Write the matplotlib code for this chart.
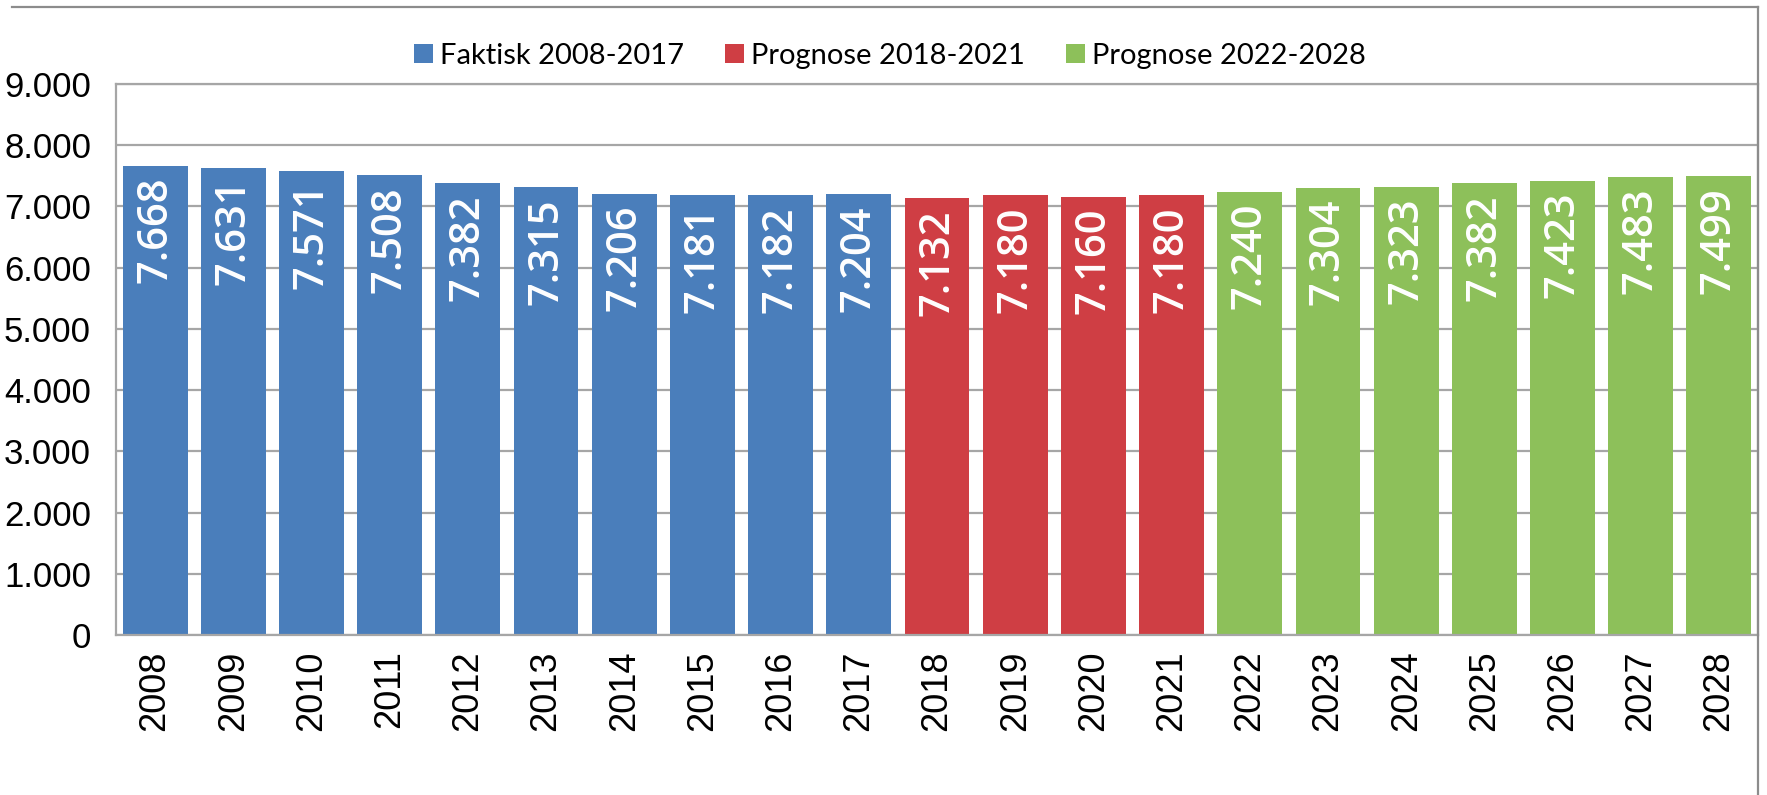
import matplotlib
matplotlib.use("Agg")
import matplotlib.pyplot as plt
from matplotlib.patches import Patch
from matplotlib.lines import Line2D

years = [str(y) for y in range(2008, 2029)]
values = [7668, 7631, 7571, 7508, 7382, 7315, 7206, 7181, 7182, 7204,
          7132, 7180, 7160, 7180,
          7240, 7304, 7323, 7382, 7423, 7483, 7499]
groups = ["Faktisk 2008-2017"] * 10 + ["Prognose 2018-2021"] * 4 + ["Prognose 2022-2028"] * 7
group_names = ["Faktisk 2008-2017", "Prognose 2018-2021", "Prognose 2022-2028"]
group_colors = {"Faktisk 2008-2017": "#4A7EBB",
                "Prognose 2018-2021": "#CF3E44",
                "Prognose 2022-2028": "#8DC05A"}
yticks = [0, 1000, 2000, 3000, 4000, 5000, 6000, 7000, 8000, 9000]
ytick_labels = ["0", "1.000", "2.000", "3.000", "4.000", "5.000", "6.000", "7.000", "8.000", "9.000"]
value_labels = ["7.668", "7.631", "7.571", "7.508", "7.382", "7.315", "7.206", "7.181", "7.182", "7.204",
                "7.132", "7.180", "7.160", "7.180",
                "7.240", "7.304", "7.323", "7.382", "7.423", "7.483", "7.499"]

W, H = 1767, 795
fig = plt.figure(figsize=(W / 100, H / 100), dpi=100)
ax = fig.add_axes([116 / W, 1 - 635 / H, (1758 - 116) / W, (635 - 84) / H])

x = list(range(len(years)))
colors = [group_colors[g] for g in groups]
bars = ax.bar(x, values, width=0.83, color=colors, zorder=2)

ax.set_xlim(-0.5, len(years) - 0.5)
ax.set_ylim(0, 9000)
ax.set_yticks(yticks)
ax.set_yticklabels(ytick_labels, fontsize=25, family=["Liberation Sans", "DejaVu Sans"])
ax.set_xticks(x)
ax.set_xticklabels(years, rotation=90, fontsize=26, family=["Liberation Sans", "DejaVu Sans"])
ax.tick_params(axis="both", length=0)
ax.tick_params(axis="y", pad=18)
ax.tick_params(axis="x", pad=11)
ax.yaxis.grid(True, color="#A6A6A6", linewidth=1.6, zorder=0)
ax.set_axisbelow(True)
for s in ["top", "left", "right", "bottom"]:
    ax.spines[s].set_color("#A6A6A6")
    ax.spines[s].set_linewidth(1.6)

for xi, v, lab in zip(x, values, value_labels):
    ax.annotate(lab, xy=(xi, v), xytext=(0, -8), textcoords="offset points",
                rotation=90, ha="center", va="top", color="white", fontsize=30,
                fontweight="semibold", family=["Open Sans", "DejaVu Sans"], zorder=3)

handles = [Patch(facecolor=group_colors[g], edgecolor="none", label=g) for g in group_names]
fig.legend(handles=handles, loc="center", bbox_to_anchor=(890 / W, 1 - 56 / H), ncol=3,
           frameon=False, prop={"family": ["Lato", "Liberation Sans"], "size": 21},
           handlelength=0.65, handleheight=0.65, handletextpad=0.25, columnspacing=1.4)

# chart frame lines (top and right)
fig.add_artist(Line2D([12 / W, 1758 / W], [1 - 7 / H, 1 - 7 / H], transform=fig.transFigure,
                      color="#8C8C8C", linewidth=1.6))
fig.add_artist(Line2D([1758 / W, 1758 / W], [1 - 7 / H, 0], transform=fig.transFigure,
                      color="#8C8C8C", linewidth=1.6))

fig.savefig("out.png", dpi=100)
